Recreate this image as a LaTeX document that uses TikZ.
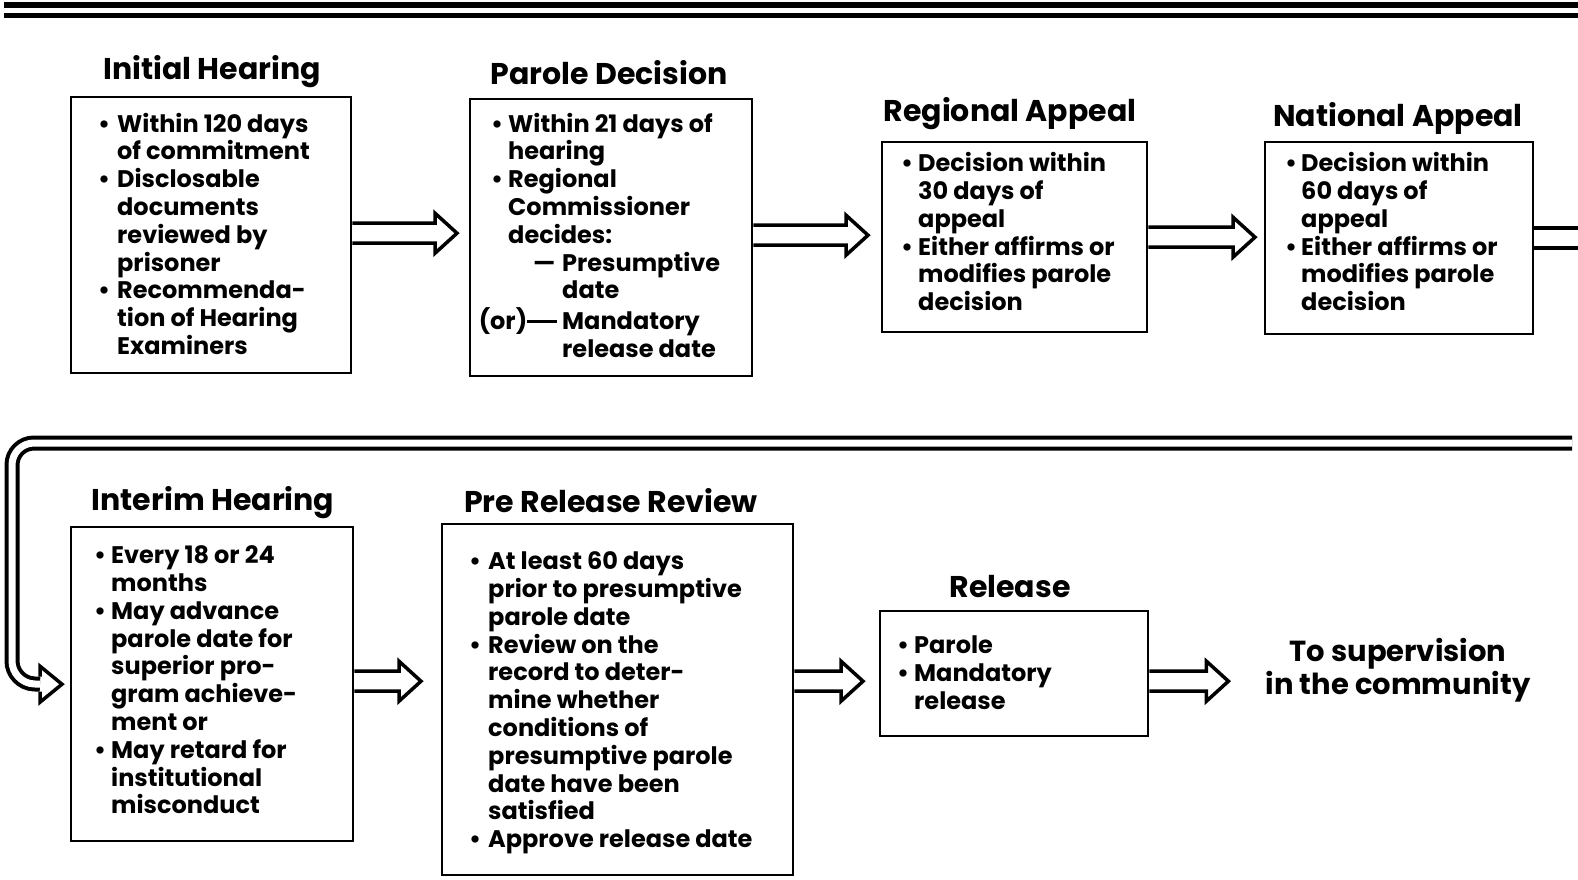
\documentclass[tikz,border=0pt]{standalone}
\usepackage{fontspec}
\setmainfont{Poppins}
\usetikzlibrary{calc}
\newcommand\bodyfont{\bfseries\fontsize{24}{27.8}\selectfont}
\newcommand\titlefont{\bfseries\fontsize{30}{32}\selectfont}
\newcommand\blist[2]{\begin{tabular}[t]{@{}p{#1}@{}l@{}}#2\end{tabular}}
\newcommand\bu{\textbullet}
\def\agap{12pt}
\begin{document}
\begin{tikzpicture}[x=1pt,y=-1pt,
  box/.style={draw, line width=2.4pt, anchor=north west, inner sep=0pt},
  ttl/.style={font=\titlefont, inner sep=0pt},
  body/.style={anchor=north west, inner sep=0pt, font=\bodyfont},
  agap/.code={\def\agap{#1}},
  bigarrow/.style={draw, line width=3.5pt, line join=miter,
    to path={let \p1=(\tikztostart), \p2=(\tikztotarget) in
      (\x1,\y1+10pt) -- (\x2-\agap-22pt,\y1+10pt) -- (\x2-\agap-22pt,\y1+20pt)
      -- (\x2-\agap,\y1) -- (\x2-\agap-22pt,\y1-20pt) -- (\x2-\agap-22pt,\y1-10pt)
      -- (\x1,\y1-10pt)}},
  shaftonly/.style={draw, line width=3.5pt,
    to path={let \p1=(\tikztostart), \p2=(\tikztotarget) in
      (\x1,\y1+10pt) -- (\x2,\y1+10pt) (\x1,\y1-10pt) -- (\x2,\y1-10pt)}},
  loopline/.style={draw, line width=4pt, double distance=7pt, rounded corners=22pt},
  headline/.style={draw, line width=3.5pt, line join=miter}
]
\useasboundingbox (0,0) rectangle (1578,879);

% top rule
\draw[line width=6pt] (4,5) -- (1578,5);
\draw[line width=4.5pt] (4,15.5) -- (1578,15.5);

% ---------- row 1 ----------
\node[ttl] (tih) at (212,72) {Initial Hearing};
\node[box, minimum width=280pt, minimum height=276pt] (ih) at (70,96) {};
\node[body] (bih) at (98,112.5) {\blist{19pt}{%
\bu & Within 120 days\\
    & of commitment\\
\bu & Disclosable\\
    & documents\\
    & reviewed by\\
    & prisoner\\
\bu & Recommenda-\\
    & tion of Hearing\\
    & Examiners}};

\node[ttl] (tpd) at (609,73) {Parole Decision};
\node[box, minimum width=282pt, minimum height=277pt] (pd) at (469,98) {};
\node[body] (bpd) at (491,112.5) {\blist{17pt}{%
\bu & Within 21 days of\\
    & hearing\\
\bu & Regional\\
    & Commissioner\\
    & decides:\\
    & \hspace{25pt}\makebox[29pt][l]{—}Presumptive\\
    & \hspace{54pt}date\\
    & \hspace{54pt}\llap{(or)\rule[0.27em]{30pt}{3pt}\hspace{5pt}}Mandatory\\
    & \hspace{54pt}release date}};

\node[ttl] (tra) at (1010,114) {Regional Appeal};
\node[box, minimum width=265pt, minimum height=190pt] (ra) at (881,141) {};
\node[body] (bra) at (901,152) {\blist{17pt}{%
\bu & Decision within\\
    & 30 days of\\
    & appeal\\
\bu & Either affirms or\\
    & modifies parole\\
    & decision}};

\node[ttl] (tna) at (1398,118) {National Appeal};
\node[box, minimum width=268pt, minimum height=192pt] (na) at (1264,141) {};
\node[body] (bna) at (1285,152) {\blist{16pt}{%
\bu & Decision within\\
    & 60 days of\\
    & appeal\\
\bu & Either affirms or\\
    & modifies parole\\
    & decision}};

\coordinate (naR) at (1578,237);
\coordinate (lpR) at (1572,443);

% ---------- row 2 ----------
\node[ttl] (tih2) at (213,503) {Interim Hearing};
\node[box, minimum width=282pt, minimum height=314pt] (ih2) at (70,526) {};
\node[body] (bih2) at (94,544) {\blist{17pt}{%
\bu & Every 18 or 24\\
    & months\\
\bu & May advance\\
    & parole date for\\
    & superior pro-\\
    & gram achieve-\\
    & ment or\\
\bu & May retard for\\
    & institutional\\
    & misconduct}};

\node[ttl] (tpr) at (611,501) {Pre Release Review};
\node[box, minimum width=351pt, minimum height=351pt] (pr) at (441,523) {};
\node[body] (bpr) at (469,550) {\blist{19pt}{%
\bu & At least 60 days\\
    & prior to presumptive\\
    & parole date\\
\bu & Review on the\\
    & record to deter-\\
    & mine whether\\
    & conditions of\\
    & presumptive parole\\
    & date have been\\
    & satisfied\\
\bu & Approve release date}};

\node[ttl] (trel) at (1010,587) {Release};
\node[box, minimum width=268pt, minimum height=125pt] (rel) at (879,610) {};
\node[body] (brel) at (897,634) {\blist{17pt}{%
\bu & Parole\\
\bu & Mandatory\\
    & release}};

\node[font=\bfseries\fontsize{29}{33}\selectfont, align=center, inner sep=0pt] (sup) at (1398,670) {To supervision\\in the community};

% ---------- connectors ----------
\draw[bigarrow, agap=12pt] ([yshift=2pt]ih.east) to (pd.west);
\draw[bigarrow, agap=13pt] ([yshift=2.5pt]pd.east) to (ra.west);
\draw[bigarrow, agap=9pt] (ra.east) to (na.west);
\draw[shaftonly] (na.east) to (naR);

\draw[bigarrow, agap=20pt] ([yshift=3pt]ih2.east) to (pr.west);
\draw[bigarrow, agap=16pt] ([yshift=18.5pt]pr.east) to (rel.west);
\draw[bigarrow, agap=37pt] ([yshift=-7.5pt]rel.east) to (sup.west);

% loop from the right edge back to the interim hearing
\draw[loopline] (lpR) -- (12,443) -- (12,683) -- ($(ih2.west)+(-30,0)$);
\draw[headline] ($(ih2.west)+(-30,-7.5)$) -- ($(ih2.west)+(-30,-18)$) -- ($(ih2.west)+(-8,0)$)
  -- ($(ih2.west)+(-30,18)$) -- ($(ih2.west)+(-30,7.5)$);
\end{tikzpicture}
\end{document}
